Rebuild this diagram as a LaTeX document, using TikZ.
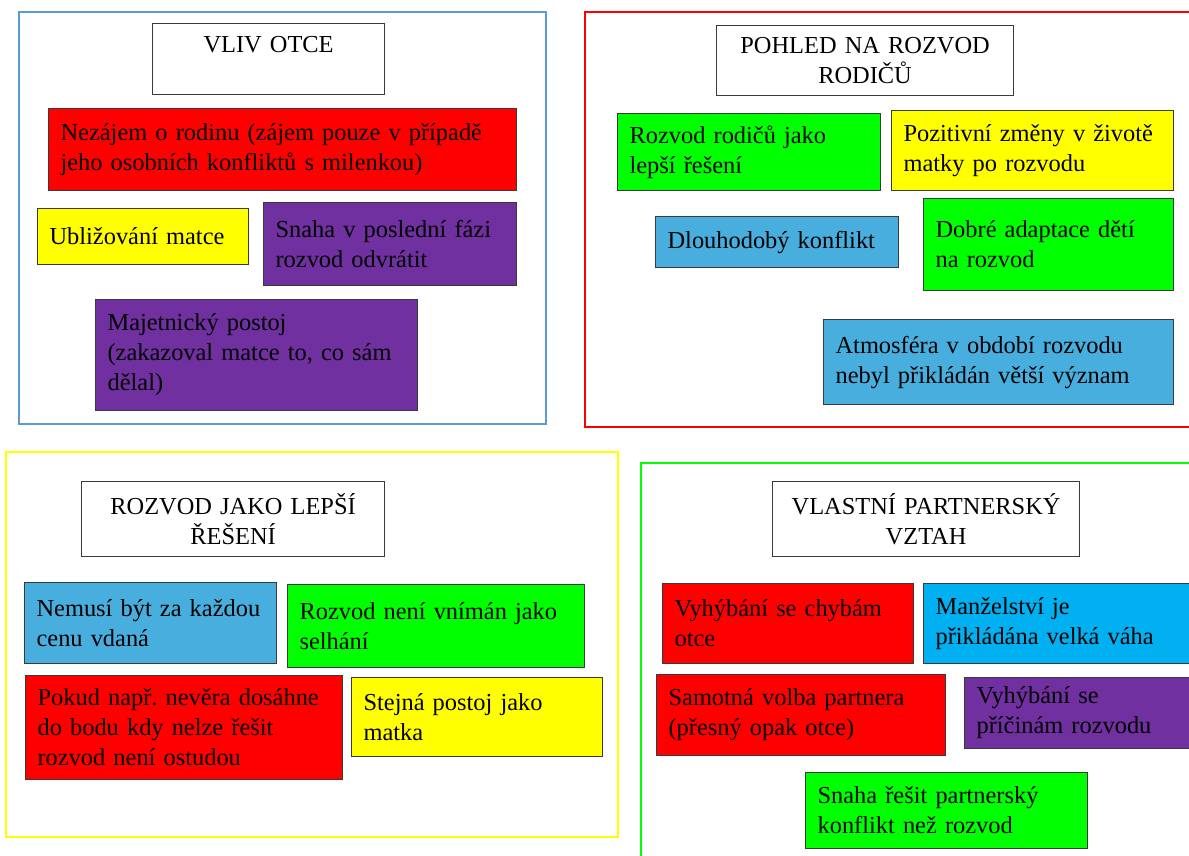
\documentclass[tikz,border=0pt]{standalone}
\usepackage{fontspec}
\setmainfont{Liberation Serif}
\usepackage{tikz}
\frenchspacing
\definecolor{fblue}{HTML}{5B9BD5}
\definecolor{fred}{HTML}{FF0000}
\definecolor{fyel}{HTML}{FFFF00}
\definecolor{fgrn}{HTML}{00FF00}
\definecolor{kred}{HTML}{FF0000}
\definecolor{kgrn}{HTML}{00FF00}
\definecolor{kyel}{HTML}{FFFF00}
\definecolor{kpur}{HTML}{7030A0}
\definecolor{kblu}{HTML}{48AEDD}
\definecolor{kcya}{HTML}{00B0F0}
\definecolor{edge}{HTML}{3A3A3A}
\newcommand{\boxfont}{\fontsize{12.2}{15}\selectfont}
\tikzset{
  frame/.style={line width=1.1pt},
  bx/.style={draw=edge,line width=0.6pt,inner xsep=6pt,inner ysep=0pt,anchor=north west,align=left,font=\boxfont},
  tbx/.style={bx,fill=white,align=center},
  rbx/.style={bx,fill=kred},
  gbx/.style={bx,fill=kgrn},
  ybx/.style={bx,fill=kyel},
  pbx/.style={bx,fill=kpur},
  bbx/.style={bx,fill=kblu},
  cbx/.style={bx,fill=kcya},
}
\begin{document}
\begin{tikzpicture}[x=0.5pt,y=-0.5pt]
\useasboundingbox (0,0) rectangle (1189,856);
% panel frames
\foreach \c/\xa/\ya/\xb/\yb in {fblue/19/12/546/424,fred/585/12/1205/427,fyel/6/452/618/837,fgrn/641/463/1205/870}{
  \draw[frame,\c] (\xa,\ya) rectangle (\xb,\yb);}
% VLIV OTCE
\node[tbx,text width=104pt,minimum height=35.5pt] (otec) at (152,23) {VLIV OTCE\\\mbox{}};
\node[rbx,text width=222pt,minimum height=41pt] (nezajem) at (48,108) {Nezájem o rodinu (zájem pouze v případě\\jeho osobních konfliktů s milenkou)};
\node[ybx,text width=93.5pt,minimum height=28pt] (ublizovani) at (37,208) {Ubližování matce};
\node[pbx,text width=114.5pt,minimum height=41.5pt] (snaha) at (263,202) {Snaha v poslední fázi\\rozvod odvrátit};
\node[pbx,text width=149pt,minimum height=55.5pt] (postoj) at (95,299) {Majetnický postoj\\(zakazoval matce to, co sám\\dělal)};
% POHLED NA ROZVOD RODICU
\node[tbx,text width=136.5pt,minimum height=35pt] (pohled) at (716,25) {POHLED NA ROZVOD\\RODIČŮ};
\node[gbx,text width=119.5pt,minimum height=38.5pt] (reseni) at (617,113) {Rozvod rodičů jako\\lepší řešení};
\node[ybx,text width=129pt,minimum height=40pt] (zmeny) at (891,110) {Pozitivní změny v životě\\matky po rozvodu};
\node[bbx,text width=109.5pt,minimum height=25.5pt] (konflikt) at (655,216) {Dlouhodobý konflikt};
\node[gbx,text width=113pt,minimum height=46pt] (adaptace) at (923,198) {Dobré adaptace dětí\\na rozvod};
\node[bbx,text width=163pt,minimum height=42.5pt] (atmosfera) at (823,319) {Atmosféra v období rozvodu\\nebyl přikládán větší význam};
% ROZVOD JAKO LEPSI RESENI
\node[tbx,text width=139.5pt,minimum height=37.5pt] (lepsi) at (81,481) {ROZVOD JAKO LEPŠÍ\\ŘEŠENÍ};
\node[bbx,text width=114pt,minimum height=40.5pt] (vdana) at (24,582) {Nemusí být za každou\\cenu vdaná};
\node[gbx,text width=136.5pt,minimum height=41.5pt] (selhani) at (287,584) {Rozvod není vnímán jako\\selhání};
\node[rbx,text width=146.5pt,minimum height=52pt] (nevera) at (25,675) {Pokud např. nevěra dosáhne\\do bodu kdy nelze řešit\\rozvod není ostudou};
\node[ybx,text width=113.5pt,minimum height=39.5pt] (stejny) at (351,677) {Stejná postoj jako\\matka};
% VLASTNI PARTNERSKY VZTAH
\node[tbx,text width=141.5pt,minimum height=37.5pt] (vztah) at (772,481) {VLASTNÍ PARTNERSKÝ\\VZTAH};
\node[rbx,text width=113.5pt,minimum height=40pt] (chyby) at (662,583) {Vyhýbání se chybám\\otce};
\node[cbx,text width=128pt,minimum height=40pt] (manzelstvi) at (923,583) {Manželství je\\přikládána velká váha};
\node[rbx,text width=132.5pt,minimum height=40.5pt] (volba) at (656,674) {Samotná volba partnera\\(přesný opak otce)};
\node[pbx,text width=108pt,minimum height=35.5pt] (priciny) at (964,677) {Vyhýbání se\\příčinám rozvodu};
\node[gbx,text width=129pt,minimum height=38pt] (resit) at (805,772) {Snaha řešit partnerský\\konflikt než rozvod};
\end{tikzpicture}
\end{document}
